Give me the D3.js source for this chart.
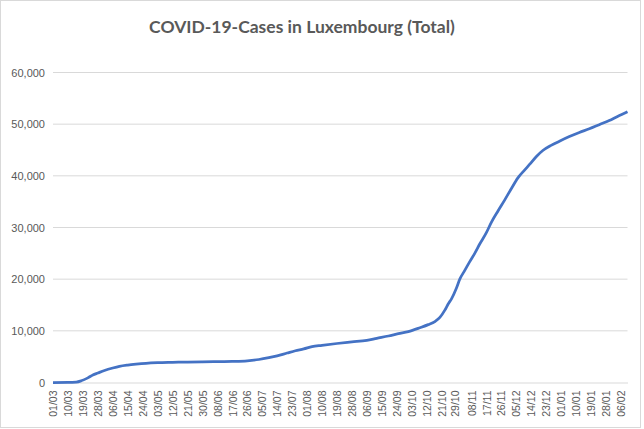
<!DOCTYPE html>
<html>
<head>
<meta charset="utf-8">
<script src="https://cdn.jsdelivr.net/npm/d3@7"></script>
<style>
  body { margin: 0; background: #fff; }
  text { font-family: "Liberation Sans", Arial, sans-serif; fill: #595959; }
  .title { font-family: "Lato", "Liberation Sans", sans-serif; font-weight: bold; }
</style>
</head>
<body>
<div id="chart"></div>
<script>
// dates and running totals
var dates = ["2020-03-01","2020-03-10","2020-03-15","2020-03-18","2020-03-22","2020-03-25","2020-03-28",
  "2020-04-01","2020-04-06","2020-04-10","2020-04-15","2020-04-20","2020-04-26","2020-05-03","2020-05-12",
  "2020-05-21","2020-05-30","2020-06-08","2020-06-17","2020-06-26","2020-07-03","2020-07-09","2020-07-14",
  "2020-07-20","2020-07-25","2020-07-30","2020-08-04","2020-08-10","2020-08-19","2020-08-28","2020-09-06",
  "2020-09-12","2020-09-19","2020-09-25","2020-10-01","2020-10-08","2020-10-13","2020-10-17","2020-10-20",
  "2020-10-23","2020-10-25","2020-10-27","2020-10-30","2020-11-01","2020-11-04","2020-11-07","2020-11-10",
  "2020-11-13","2020-11-17","2020-11-20","2020-11-24","2020-11-28","2020-12-02","2020-12-06","2020-12-10",
  "2020-12-13","2020-12-17","2020-12-21","2020-12-26","2020-12-31","2021-01-06","2021-01-12","2021-01-18",
  "2021-01-24","2021-01-30","2021-02-04","2021-02-10"];
var totals = [0,5,80,330,900,1450,1830,
  2320,2800,3120,3370,3550,3720,3830,3900,
  3960,4000,4030,4080,4200,4450,4800,5150,
  5700,6150,6500,6950,7200,7550,7850,8150,
  8550,9000,9450,9850,10600,11200,11800,12600,
  14000,15200,16200,18300,20000,21700,23400,25000,
  26800,29000,31000,33200,35300,37500,39600,41100,
  42200,43700,44900,45900,46700,47600,48400,49100,
  49900,50700,51500,52400];

// category labels shown on the x axis (every 9th day)
var tickDates = ["2020-03-01","2020-03-10","2020-03-19","2020-03-28","2020-04-06","2020-04-15","2020-04-24",
  "2020-05-03","2020-05-12","2020-05-21","2020-05-30","2020-06-08","2020-06-17","2020-06-26","2020-07-05",
  "2020-07-14","2020-07-23","2020-08-01","2020-08-10","2020-08-19","2020-08-28","2020-09-06","2020-09-15",
  "2020-09-24","2020-10-03","2020-10-12","2020-10-21","2020-10-29","2020-11-08","2020-11-17","2020-11-26",
  "2020-12-05","2020-12-14","2020-12-23","2021-01-01","2021-01-10","2021-01-19","2021-01-28","2021-02-06"];
var yTicks = [0, 10000, 20000, 30000, 40000, 50000, 60000];

var width = 644, height = 429;
var plotLeft = 53, plotRight = 627.5, plotTop = 72.5, plotBottom = 382.5;

var parse = d3.timeParse("%Y-%m-%d");
var data = dates.map(function(d, i) { return { date: parse(d), total: totals[i] }; });

var svg = d3.select("#chart").append("svg")
  .attr("width", width).attr("height", height);

// chart area border
svg.append("rect")
  .attr("x", 0.5).attr("y", 0.5).attr("width", 640).attr("height", 427)
  .attr("fill", "#fff").attr("stroke", "#d9d9d9");

svg.append("text")
  .attr("class", "title")
  .attr("x", 302).attr("y", 33)
  .attr("text-anchor", "middle")
  .style("font-size", "17.5px")
  .text("COVID-19-Cases in Luxembourg (Total)");

var x = d3.scaleTime()
  .domain([parse("2020-03-01"), parse("2021-02-10")])
  .range([plotLeft, plotRight]);
var y = d3.scaleLinear().domain([0, 60000]).range([plotBottom, plotTop]);

// gridlines
svg.append("g")
  .selectAll("line")
  .data(yTicks.filter(function(t) { return t > 0; }))
  .join("line")
  .attr("x1", plotLeft).attr("x2", plotRight)
  .attr("y1", function(d) { return y(d); }).attr("y2", function(d) { return y(d); })
  .attr("stroke", "#d9d9d9").attr("stroke-width", 1);

// y axis labels
var fmt = d3.format(",");
svg.append("g")
  .selectAll("text")
  .data(yTicks)
  .join("text")
  .attr("x", 45).attr("y", function(d) { return y(d) + 4; })
  .attr("text-anchor", "end")
  .style("font-size", "11px")
  .text(function(d) { return fmt(d); });

// x axis
var xAxis = d3.axisBottom(x)
  .tickValues(tickDates.map(parse))
  .tickFormat(d3.timeFormat("%d/%m"))
  .tickSize(0);
var gx = svg.append("g")
  .attr("transform", "translate(0," + plotBottom + ")")
  .call(xAxis);
gx.select(".domain").attr("stroke", "#d9d9d9");
gx.selectAll("text")
  .attr("transform", "rotate(-90)")
  .attr("x", -8).attr("y", 0).attr("dy", "0.35em")
  .attr("text-anchor", "end")
  .style("font-size", "10.5px")
  .style("font-family", "Liberation Sans, Arial, sans-serif")
  .attr("fill", "#595959");

// the series
var line = d3.line()
  .x(function(d) { return x(d.date); })
  .y(function(d) { return y(d.total); })
  .curve(d3.curveMonotoneX);
svg.append("path")
  .datum(data)
  .attr("fill", "none")
  .attr("stroke", "#4472c4")
  .attr("stroke-width", 2.75)
  .attr("stroke-linejoin", "round")
  .attr("d", line);
</script>
</body>
</html>
